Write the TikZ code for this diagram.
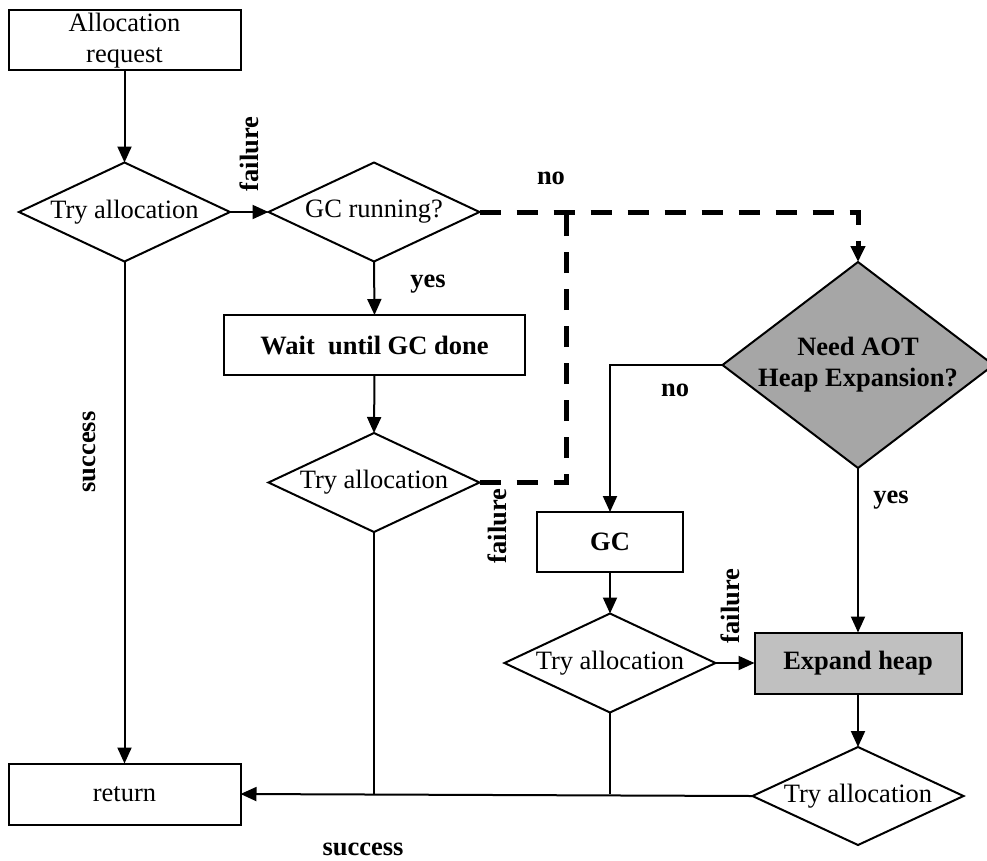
\documentclass[tikz,border=0pt]{standalone}
\usepackage{fontspec}
\setmainfont{Liberation Serif}
\usetikzlibrary{shapes.geometric,arrows.meta}
\definecolor{needgray}{HTML}{A6A6A6}
\definecolor{expgray}{HTML}{C0C0C0}
\begin{document}
\begin{tikzpicture}[x=1pt,y=-1pt,
  every node/.style={font=\fontsize{26.5}{31}\selectfont},
  box/.style={draw, line width=2pt, inner sep=0pt, outer sep=0pt, align=center},
  dia/.style={draw, diamond, line width=2pt, inner sep=0pt, outer sep=0pt, minimum width=211pt, minimum height=99pt},
  bold/.style={font=\fontsize{26.5}{31}\selectfont\bfseries},
  lbl/.style={font=\fontsize{26.5}{31}\selectfont\bfseries, inner sep=0pt},
  conn/.style={line width=2pt, -{Triangle[length=16pt,width=14pt]}},
  plain/.style={line width=2pt},
  dashline/.style={line width=5pt, dash pattern=on 21pt off 16pt}
]
\useasboundingbox (0,0) rectangle (987,860);

% nodes
\node[box, minimum width=232pt, minimum height=60pt] (req) at (124.5,40.3) {Allocation\\request};
\node[dia, label=center:{Try allocation}] (t1) at (124.5,212) {};
\node[dia, label=center:{GC running?}] (gcr) at (374,212) {};
\node[box, bold, minimum width=301pt, minimum height=60pt] (wait) at (374.5,345) {Wait\ \ until GC done};
\node[dia, label=center:{Try allocation}] (t2) at (374,482.5) {};
\node[dia, fill=needgray, minimum width=271pt, minimum height=206pt,
      label={[align=center, bold]center:Need AOT\\Heap Expansion?}] (need) at (858,365) {};
\node[box, bold, minimum width=146pt, minimum height=60pt] (gc) at (610,542) {GC};
\node[dia, label=center:{Try allocation}] (t3) at (610,663) {};
\node[box, bold, fill=expgray, minimum width=207pt, minimum height=61pt] (exp) at (858,663) {Expand heap};
\node[dia, minimum height=98pt, label=center:{Try allocation}] (t4) at (858,796) {};
\node[box, minimum width=232pt, minimum height=61pt] (ret) at (124.5,794) {return};
\coordinate (dj) at (566,212);

% connectors
\draw[conn] (req.south) -- (t1.north);
\draw[conn] (t1.east) -- (gcr.west);
\draw[conn] (gcr.south) -- (wait.north);
\draw[conn] (wait.south) -- (t2.north);
\draw[conn] (t1.south) -- (ret.north);
\draw[dashline, -{Triangle[length=16pt,width=14pt]}] (gcr.east) -| (need.north);
\draw[dashline] (t2.east) -| (dj);
\draw[conn] (need.west) -| (gc.north);
\draw[conn] (gc.south) -- (t3.north);
\draw[conn] (t3.east) -- (exp.west);
\draw[conn] (need.south) -- (exp.north);
\draw[conn] (exp.south) -- (t4.north);
\draw[conn] (t4.west) -- (ret.east);
\draw[plain] (t2.south) -- (t2.south |- ret.east);
\draw[plain] (t3.south) -- (t3.south |- ret.east);

% labels
\node[lbl, rotate=90] (f1) at (249.5,154) {failure};
\node[lbl] (no1) at (551,178) {no};
\node[lbl] (yes1) at (428,284) {yes};
\node[lbl, rotate=90] (f2) at (497,526) {failure};
\node[lbl] (no2) at (675,390) {no};
\node[lbl] (yes2) at (891,500) {yes};
\node[lbl, rotate=90] (f3) at (730,606) {failure};
\node[lbl, rotate=90] (s1) at (89.5,452) {success};
\node[lbl] (s2) at (363,849) {success};
\end{tikzpicture}
\end{document}
